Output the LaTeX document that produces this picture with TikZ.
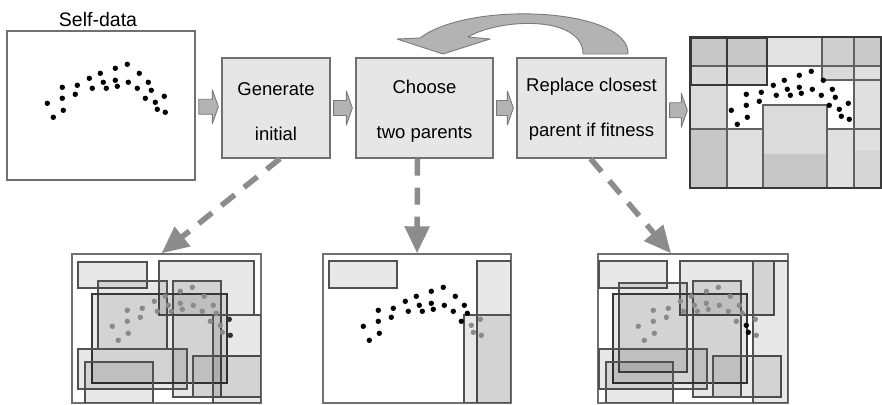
\documentclass[tikz,border=0pt]{standalone}
\usepackage{fontspec}
\setmainfont{Liberation Sans}
\usetikzlibrary{arrows.meta,calc}

\definecolor{boxfill}{HTML}{E6E6E6}
\definecolor{boxline}{HTML}{707070}
\definecolor{arrowfill}{HTML}{B3B3B3}
\definecolor{arrowline}{HTML}{7A7A7A}
\definecolor{dashgray}{HTML}{8C8C8C}
\definecolor{dotgray}{HTML}{8A8A8A}

% block arrow between two nodes (start anchor, end anchor)
\newcommand\flowarrow[2]{%
  \draw[blk] let \p1=(#1), \p2=(#2), \p3=($(#1)!.5!(#2)$) in
    (\x1+3pt,\y3+7.5pt) -- (\x2-9pt,\y3+7.5pt) -- (\x2-9pt,\y3+17pt) --
    (\x2-3pt,\y3) -- (\x2-9pt,\y3-17pt) -- (\x2-9pt,\y3-7.5pt) --
    (\x1+3pt,\y3-7.5pt) -- cycle;}

% invisible strut that lowers the two text lines inside a step box
\newcommand\toppad[1]{\rule{0pt}{#1}}

% the data points, relative to a frame's top-left corner
\newcommand\maindots{41/73,47/87,56/57,56/68,57/80,69/64,71/55,83/48,86/58,94/43,97/52,100/58,109/38,109/50,111/56,121/34,122/52,133/43,131/58,142/52,145/60,139/68}
\newcommand\taila{149/72,151/79}
\newcommand\tailb{158/66,159/82}
\newcommand\pointset[3]{% origin, list, colour
  \begin{scope}[shift={(#1)}]
    \foreach \a/\b in #2 \fill[#3] (\a,\b) circle[radius=2.7pt];
  \end{scope}}

\begin{document}
\begin{tikzpicture}[x=1pt,y=-1pt,
  stepbox/.style={draw=boxline, fill=boxfill, line width=1.3pt,
    minimum width=108pt, minimum height=100pt, inner sep=0pt,
    align=center, font=\fontsize{18.5}{45}\selectfont},
  framebox/.style={draw=boxline, fill=white, line width=1.4pt,
    inner sep=0pt, minimum width=189pt, minimum height=149pt},
  blk/.style={draw=arrowline, fill=arrowfill, line width=0.9pt, line join=round},
  spawn/.style={draw=dashgray, line width=5.5pt, dash pattern=on 17pt off 12pt,
    -{Triangle[length=27pt,width=24pt,fill=dashgray]}},
  region/.style={draw=black!68, line width=1.2pt, fill=black, fill opacity=0.09},
  strongregion/.style={region, draw=black!78, line width=1.5pt},
  gridline/.style={draw=black!62, line width=1.1pt},
  darkline/.style={draw=black!78, line width=1.5pt},
]
\useasboundingbox (0,0) rectangle (882,404);

% ---- top row ----
\node[font=\fontsize{19.5}{22}\selectfont] (lbl) at (98,20) {Self-data};
\node[framebox, minimum width=188pt] (self) at (101,105.5) {};
\pointset{self.north west}{\maindots}{black}
\pointset{self.north west}{\taila}{black}
\pointset{self.north west}{\tailb}{black}

\node[stepbox, minimum width=108pt] (gen) at (276,108) {\toppad{20pt}Generate\\initial};
\node[stepbox, minimum width=137pt] (choose) at (424.5,108) {\toppad{19pt}Choose\\two parents};
\node[stepbox, minimum width=149pt] (rep) at (591.5,108) {\toppad{15pt}Replace closest\\parent if fitness};

% ---- resulting cover ----
\node[framebox, draw=none] (res) at (785.5,112.5) {};
\fill[black!22] (691,38) rectangle (767,66);
\fill[black!15] (691,66) rectangle (767,85);
\fill[black!11] (767,38) rectangle (822,66);
\fill[black!19] (822,38) rectangle (854,66);
\fill[black!15] (822,66) rectangle (854,80);
\fill[black!21] (854,38) rectangle (880,66);
\fill[black!12] (854,66) rectangle (880,187);
\fill[black!16] (854,150) rectangle (880,187);
\fill[black!14] (691,85) rectangle (727,129);
\fill[black!22] (691,129) rectangle (727,187);
\fill[black!12] (727,129) rectangle (763,187);
\fill[black!14] (763,105) rectangle (827,154);
\fill[black!22] (763,154) rectangle (827,187);
\fill[black!12] (827,129) rectangle (854,187);
\draw[gridline] (691,66) -- (880,66);
\draw[gridline] (822,80) -- (880,80);
\draw[gridline] (691,129) -- (763,129);
\draw[gridline] (827,129) -- (880,129);
\draw[gridline] (727,85) -- (727,187);
\draw[gridline] (822,38) -- (822,80);
\draw[gridline] (854,38) -- (854,187);
\draw[gridline] (763,187) -- (763,105) -- (827,105) -- (827,187);
\draw[darkline] (691,38) rectangle (767,85);
\draw[darkline] (727,38) -- (727,85);
\pointset{res.north west}{\maindots}{black}
\pointset{res.north west}{\taila}{black}
\pointset{res.north west}{\tailb}{black}
\draw[draw=black!78, line width=2pt] (res.north west) rectangle (res.south east);

% ---- flow arrows ----
\flowarrow{self.east}{gen.west}
\flowarrow{gen.east}{choose.west}
\flowarrow{choose.east}{rep.west}
\flowarrow{rep.east}{res.west}

% loop back from replacement to parent choice
\filldraw[blk] (628,54) .. controls (630,8) and (470,0) .. (420,38)
  -- (397,39) -- (443,54) -- (490,39) -- (468,37)
  .. controls (500,18) and (583,15) .. (583,54) -- cycle;

% ---- bottom row: initial population ----
\node[framebox] (popa) at (166.5,328.5) {};
\draw[region] (78,262) rectangle (147,288);
\draw[region] (159,261) rectangle (254,315);
\draw[region] (98,281) rectangle (167,349);
\draw[region] (173,281) rectangle (221,397);
\draw[strongregion] (92,294) rectangle (227,383);
\draw[region] (78,349) rectangle (187,389);
\draw[region] (85,362) rectangle (153,403);
\draw[region] (193,356) rectangle (261,397);
\draw[region] (213,315) rectangle (261,403);
\pointset{popa.north west}{\maindots}{dotgray}
\pointset{popa.north west}{\taila}{dotgray}
\pointset{popa.north west}{\tailb}{black!80}
\draw[boxline, line width=1.4pt] (popa.north west) rectangle (popa.south east);

% ---- bottom row: two parents ----
\node[framebox, minimum width=188pt] (popb) at (417,328.5) {};
\draw[region] (329,261) rectangle (397,288);
\draw[region] (477,261) rectangle (511,403);
\draw[region] (464,315) rectangle (511,403);
\pointset{popb.north west}{\maindots}{black}
\pointset{popb.north west}{\taila}{dotgray}
\pointset{popb.north west}{\tailb}{dotgray}
\draw[boxline, line width=1.4pt] (popb.north west) rectangle (popb.south east);

% ---- bottom row: after replacement ----
\node[framebox, minimum width=190pt] (popc) at (693,328.5) {};
\draw[region] (599,261) rectangle (667,288);
\draw[region] (680,261) rectangle (774,315);
\draw[region] (619,283) rectangle (687,372);
\draw[region] (693,281) rectangle (741,397);
\draw[strongregion] (613,294) rectangle (747,383);
\draw[region] (599,349) rectangle (707,389);
\draw[region] (606,362) rectangle (673,403);
\draw[region] (713,356) rectangle (781,397);
\draw[region] (753,261) rectangle (788,403);
\pointset{popc.north west}{\maindots}{dotgray}
\pointset{popc.north west}{\taila}{black}
\pointset{popc.north west}{\tailb}{dotgray}
\draw[boxline, line width=1.4pt] (popc.north west) rectangle (popc.south east);

% ---- dashed links to the populations ----
\draw[spawn] ([xshift=4pt]gen.south) -- ([xshift=-5pt]popa.north);
\draw[spawn] ([xshift=-7pt]choose.south) -- (popb.north);
\draw[spawn] ([xshift=-1pt]rep.south) -- ([xshift=-22pt]popc.north);
\end{tikzpicture}
\end{document}
